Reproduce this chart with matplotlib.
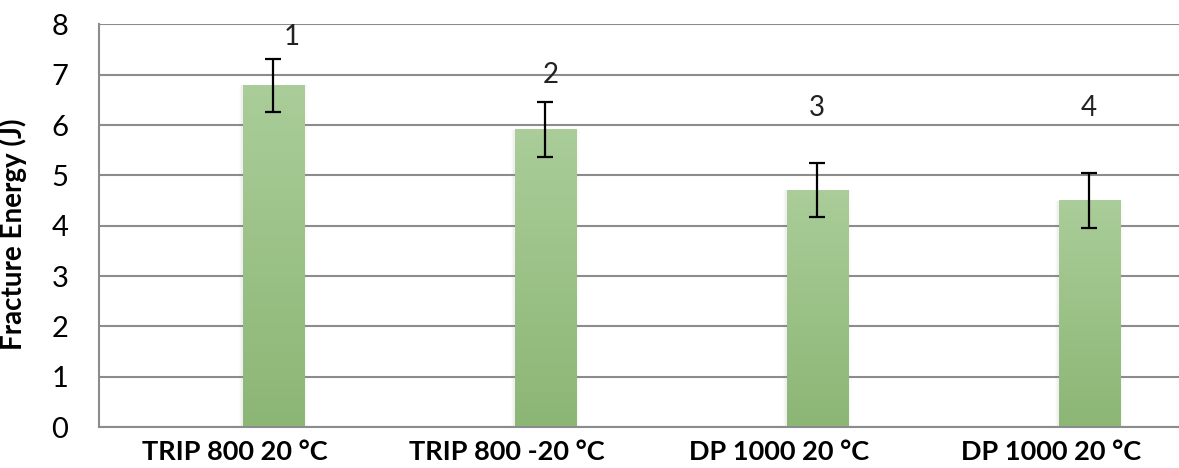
import matplotlib.pyplot as plt
import numpy as np

categories = ["TRIP 800 20 °C", "TRIP 800 -20 °C", "DP 1000 20 °C", "DP 1000 20 °C"]
energy = [6.79, 5.91, 4.71, 4.50]
energy_err = [0.53, 0.54, 0.535, 0.54]
sample_ids = ["1", "2", "3", "4"]
id_x_shift = [0.07, 0.02, 0.0, 0.0]
id_y = [7.75, 7.0, 6.35, 6.35]

plt.rcParams['font.family'] = ['Lato', 'DejaVu Sans']

fig = plt.figure(figsize=(11.79, 4.68), dpi=100)
ax = fig.add_axes([99 / 1179, 41 / 468, 1 - 99 / 1179, 402.5 / 468])

x = np.arange(len(categories))
offset = 0.14
width = 0.225
bars = ax.bar(x + offset, energy, width=width, color='#9dc48a', zorder=2)

# vertical gradient on each bar, lighter on top
top_c = np.array([170, 205, 153]) / 255
bot_c = np.array([140, 182, 117]) / 255
grad = np.linspace(0, 1, 256)[:, None]
img = top_c[None, None, :] * (1 - grad[:, :, None]) + bot_c[None, None, :] * grad[:, :, None]
for b in bars:
    x0, w, h = b.get_x(), b.get_width(), b.get_height()
    # soft shadow
    for k, a in zip([0.014, 0.009, 0.005], [0.025, 0.035, 0.05]):
        ax.bar(x0 + w / 2, h, width=w + 2 * k, color='gray', alpha=a, zorder=1.5, linewidth=0)
    ax.imshow(img, extent=[x0, x0 + w, 0, h], aspect='auto', zorder=2.5)

ax.errorbar(x + offset, energy, yerr=energy_err, fmt='none', ecolor='black',
            elinewidth=1.6, capsize=5.5, capthick=1.6, zorder=3)

for i, s in enumerate(sample_ids):
    ax.text(x[i] + offset + id_x_shift[i], id_y[i], s, ha='center', va='center',
            fontsize=20, color='#222222', zorder=4)

ax.set_xlim(-0.5, 3.5 - 0.03)
ax.set_ylim(0, 8)
ax.set_yticks(range(0, 9))
ax.set_xticks(x)
ax.set_xticklabels(categories, fontsize=19.5, fontweight='bold')
ax.tick_params(axis='y', labelsize=21, length=0, pad=22)
ax.tick_params(axis='x', length=0, pad=9)
ax.set_ylabel("Fracture Energy (J)", fontsize=20, fontweight='bold')
ax.yaxis.set_label_coords(-0.067, 0.48)

ax.grid(axis='y', color='#8c8c8c', linewidth=1.5, zorder=0)
ax.set_axisbelow(True)
for side in ['top', 'right']:
    ax.spines[side].set_visible(False)
for side in ['left', 'bottom']:
    ax.spines[side].set_color('#8c8c8c')
    ax.spines[side].set_linewidth(1.5)

fig.savefig("out.png", dpi=100)
